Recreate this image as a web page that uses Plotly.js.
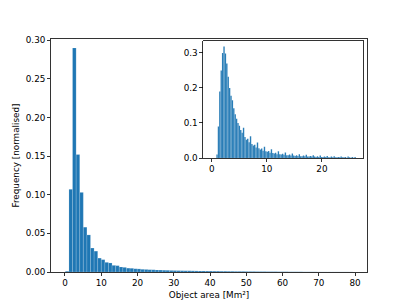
<!DOCTYPE html>
<html>
<head>
<meta charset="utf-8">
<script src="https://cdn.plot.ly/plotly-3.0.1.min.js"></script>
<style>html,body{margin:0;padding:0;background:#fff;}#chart{width:407px;height:305px;}</style>
</head>
<body>
<div id="chart"></div>
<script>
// Main histogram: 80 bins
var mainBinStart = 0.1;
var mainBinWidth = 0.991;
var mainFreq = [
  0.001, 0.107, 0.290, 0.152, 0.103, 0.058, 0.048, 0.031, 0.027, 0.018,
  0.016, 0.0125, 0.0117, 0.0086, 0.0082, 0.0065, 0.0060, 0.0050, 0.0048, 0.0042,
  0.0040, 0.0035, 0.0033, 0.0030, 0.0029, 0.0026, 0.0025, 0.0023, 0.0022, 0.0020,
  0.0019, 0.0018, 0.0017, 0.0016, 0.0016, 0.0015, 0.0014, 0.0013, 0.0013, 0.0012,
  0.0012, 0.0011, 0.0011, 0.0010, 0.0010, 0.0009, 0.0009, 0.0008, 0.0008, 0.0008,
  0.0007, 0.0007, 0.0007, 0.0006, 0.0006, 0.0006, 0.0005, 0.0005, 0.0005, 0.0004,
  0.0004, 0.0004, 0.0003, 0.0003, 0.0003, 0.0003, 0.0002, 0.0002, 0.0002, 0.0002,
  0.0001, 0.0001, 0.0001, 0.0001, 0.0001, 0.0001, 0.0001, 0.0001, 0.0001, 0.0001
];
// Inset histogram: 100 bins
var insetBinStart = 0.85;
var insetBinWidth = 0.253;
var insetFreq = [
  0.010, 0.090, 0.190, 0.250, 0.300, 0.318, 0.298, 0.270, 0.232, 0.200,
  0.178, 0.165, 0.142, 0.125, 0.112, 0.100, 0.092, 0.080, 0.072, 0.086,
  0.060, 0.052, 0.055, 0.045, 0.062, 0.040, 0.036, 0.038, 0.030, 0.044,
  0.028, 0.024, 0.027, 0.021, 0.032, 0.019, 0.018, 0.020, 0.015, 0.025,
  0.014, 0.013, 0.015, 0.011, 0.019, 0.011, 0.010, 0.012, 0.009, 0.016,
  0.008, 0.008, 0.010, 0.007, 0.013, 0.007, 0.006, 0.008, 0.006, 0.011,
  0.005, 0.005, 0.007, 0.005, 0.009, 0.004, 0.004, 0.006, 0.004, 0.008,
  0.004, 0.003, 0.005, 0.003, 0.007, 0.003, 0.003, 0.004, 0.003, 0.006,
  0.002, 0.002, 0.004, 0.002, 0.005, 0.002, 0.002, 0.003, 0.002, 0.004,
  0.002, 0.002, 0.003, 0.001, 0.004, 0.002, 0.001, 0.003, 0.001, 0.003
];
var mainTicksX = [0, 10, 20, 30, 40, 50, 60, 70, 80];
var insetTicksX = [0, 10, 20];

function centers(start, w, n) {
  var c = [];
  for (var i = 0; i < n; i++) c.push(start + w * (i + 0.5));
  return c;
}

var blue = '#1f77b4';
var font = {family: 'DejaVu Sans, sans-serif', size: 8.8, color: '#000'};

var traces = [
  {
    type: 'bar', x: centers(mainBinStart, mainBinWidth, mainFreq.length), y: mainFreq,
    width: mainBinWidth, marker: {color: blue, line: {color: 'rgba(255,255,255,0.3)', width: 0.5}},
    xaxis: 'x', yaxis: 'y', hoverinfo: 'skip'
  },
  {
    type: 'bar', x: centers(insetBinStart, insetBinWidth, insetFreq.length), y: insetFreq,
    width: insetBinWidth, marker: {color: blue, line: {color: 'rgba(255,255,255,0.3)', width: 0.3}},
    xaxis: 'x2', yaxis: 'y2', hoverinfo: 'skip'
  }
];

var axCommon = {
  showline: true, linecolor: '#000', linewidth: 0.8, mirror: true,
  ticks: 'outside', ticklen: 3.1, tickwidth: 0.8, tickcolor: '#000',
  showgrid: false, zeroline: false, tickfont: font
};

var layout = {
  width: 407, height: 305,
  margin: {l: 0, r: 0, t: 0, b: 0},
  paper_bgcolor: '#fff', plot_bgcolor: '#fff',
  showlegend: false, barmode: 'overlay', bargap: 0,
  font: font,
  xaxis: Object.assign({}, axCommon, {
    domain: [51/407, 367/407], range: [-3.86, 83.3],
    tickvals: mainTicksX, anchor: 'y',
    title: {text: 'Object area [Mm²]', font: font, standoff: 4}
  }),
  yaxis: Object.assign({}, axCommon, {
    domain: [33/305, 266/305], range: [0, 0.3015],
    dtick: 0.05, tickformat: '.2f', anchor: 'x',
    title: {text: 'Frequency [normalised]', font: font, standoff: 4}
  }),
  xaxis2: Object.assign({}, axCommon, {
    domain: [203.3/407, 362.7/407], range: [-1.52, 27.4],
    tickvals: insetTicksX, anchor: 'y2'
  }),
  yaxis2: Object.assign({}, axCommon, {
    domain: [147/305, 264/305], range: [0, 0.334],
    dtick: 0.1, tickformat: '.1f', anchor: 'x2'
  })
};

Plotly.newPlot('chart', traces, layout, {staticPlot: true, displayModeBar: false});
</script>
</body>
</html>
